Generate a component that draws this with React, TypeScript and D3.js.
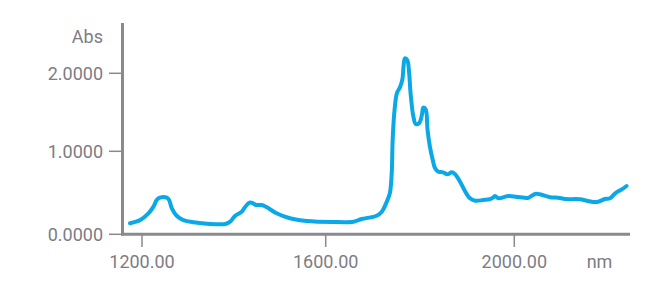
import React from "react";
import * as d3 from "d3";

const wavelengths: number[] = [
  1174, 1196, 1214, 1225, 1232, 1239, 1254, 1259, 1265, 1276, 1290, 1312, 1341, 1381, 1392, 1403,
  1417, 1424, 1434, 1442, 1448, 1461, 1472, 1493, 1522, 1559, 1616, 1659, 1676, 1708, 1719, 1728,
  1736, 1740, 1742, 1746, 1751, 1758, 1763, 1765, 1768, 1773, 1777, 1780, 1786, 1791, 1798, 1804,
  1807, 1812, 1816, 1821, 1827, 1832, 1839, 1849, 1858, 1867, 1874, 1885, 1895, 1906, 1917, 1934,
  1948, 1955, 1959, 1966, 1987, 2012, 2030, 2044, 2054, 2076, 2093, 2108, 2139, 2154, 2168, 2178,
  2192, 2203, 2214, 2228, 2238,
];
const absorbance: number[] = [
  0.133, 0.172, 0.253, 0.333, 0.413, 0.441, 0.441, 0.413, 0.313, 0.22, 0.172, 0.145, 0.128, 0.124, 0.152, 0.224,
  0.272, 0.325, 0.381, 0.373, 0.353, 0.353, 0.325, 0.253, 0.193, 0.16, 0.148, 0.152, 0.184, 0.224, 0.272, 0.373,
  0.494, 0.735, 1.145, 1.529, 1.744, 1.828, 1.936, 2.085, 2.192, 2.171, 2.0, 1.744, 1.444, 1.35, 1.359, 1.465,
  1.559, 1.538, 1.273, 1.059, 0.895, 0.795, 0.754, 0.747, 0.723, 0.747, 0.727, 0.634, 0.525, 0.434, 0.405, 0.413,
  0.422, 0.441, 0.461, 0.434, 0.461, 0.446, 0.441, 0.486, 0.482, 0.446, 0.441, 0.425, 0.422, 0.405, 0.389, 0.393,
  0.425, 0.434, 0.494, 0.542, 0.582,
];
const xTicks: number[] = [1200, 1600, 2000];
const yTicks: number[] = [0, 1, 2];
const xUnit = "nm";
const yUnit = "Abs";

const W = 668;
const H = 289;
const AXIS = "#8a898e";
const TEXT = "#7d7c84";
const LINE = "#0ba8e8";
const FONT = "Roboto, 'Noto Sans', sans-serif";

export default function App() {
  const x = d3.scaleLinear().domain([1200, 1600, 2000]).range([142, 325.7, 514.3]);
  const y = d3.scaleLinear().domain([0, 1, 2]).range([234.3, 151.3, 73.3]);
  const axisLeft = 122.5;
  const axisBottom = 234.3;
  const axisRight = 630;
  const axisTop = 23;

  const pts: [number, number][] = wavelengths.map((w, i) => [w, absorbance[i]]);
  const path = d3
    .line<[number, number]>()
    .x((d) => x(d[0]))
    .y((d) => y(d[1]))
    .curve(d3.curveCatmullRom.alpha(0.5))(pts);

  return (
    <svg width={W} height={H} style={{ position: "absolute", left: 0, top: 0, background: "#fff" }}>
      <path d={path ?? ""} fill="none" stroke={LINE} strokeWidth={4} strokeLinecap="round" strokeLinejoin="round" />
      {/* axes */}
      <line x1={axisLeft} x2={axisLeft} y1={axisTop} y2={axisBottom + 1.2} stroke={AXIS} strokeWidth={3} />
      <line x1={axisLeft - 1.5} x2={axisRight} y1={axisBottom} y2={axisBottom} stroke={AXIS} strokeWidth={3} />
      {yTicks.map((t) => (
        <g key={"y" + t}>
          <line x1={109} x2={axisLeft} y1={y(t)} y2={y(t)} stroke={AXIS} strokeWidth={1.5} />
          <text x={103} y={y(t)} dy="0.36em" textAnchor="end" fontFamily={FONT} fontSize={18} fill={TEXT}>
            {t.toFixed(4)}
          </text>
        </g>
      ))}
      <text x={103} y={43.3} textAnchor="end" fontFamily={FONT} fontSize={18} fill={TEXT}>
        {yUnit}
      </text>
      {xTicks.map((t) => (
        <g key={"x" + t}>
          <line x1={x(t)} x2={x(t)} y1={axisBottom} y2={247} stroke={AXIS} strokeWidth={1.5} />
          <text x={x(t)} y={268.3} textAnchor="middle" fontFamily={FONT} fontSize={18} fill={TEXT}>
            {t.toFixed(2)}
          </text>
        </g>
      ))}
      <text x={599.5} y={268.3} textAnchor="middle" fontFamily={FONT} fontSize={18} fill={TEXT}>
        {xUnit}
      </text>
    </svg>
  );
}
